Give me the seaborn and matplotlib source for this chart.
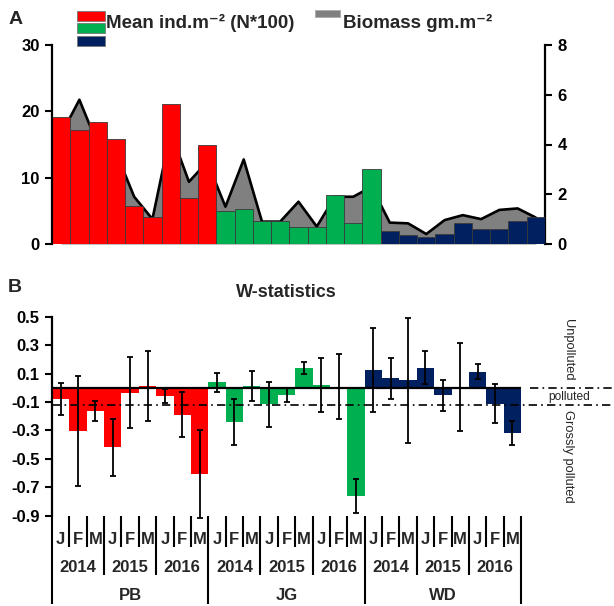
import matplotlib
matplotlib.use("Agg")
import matplotlib.pyplot as plt
import seaborn as sns
import numpy as np
import pandas as pd
from matplotlib.patches import Rectangle
from matplotlib.transforms import blended_transform_factory

# ---------------- data ----------------
sites = ["PB"] * 9 + ["JG"] * 9 + ["WD"] * 9
site_names = ["PB", "JG", "WD"]
years = ["2014", "2015", "2016"]
months = ["J", "F", "M"]
density = [19.2, 17.2, 18.4, 15.8, 5.8, 4.1, 21.1, 7.0, 14.9,
           4.9, 5.3, 3.4, 3.4, 2.6, 2.6, 7.4, 3.2, 11.3,
           2.0, 1.4, 1.0, 1.5, 3.1, 2.3, 2.3, 3.5, 4.0]
biomass = [4.4, 5.8, 4.0, 3.7, 1.9, 1.0, 4.5, 2.5, 3.3,
           1.5, 3.4, 0.9, 0.9, 1.7, 0.7, 1.9, 1.9, 2.3,
           0.86, 0.83, 0.4, 0.96, 1.16, 1.0, 1.37, 1.43, 1.06]
w_mean = [-0.08, -0.305, -0.166, -0.42, -0.034, 0.013, -0.06, -0.19, -0.61,
          0.037, -0.24, 0.013, -0.117, -0.053, 0.14, 0.018, 0.008, -0.76,
          0.124, 0.065, 0.053, 0.14, -0.053, 0.005, 0.112, -0.112, -0.317]
w_err = [0.11, 0.39, 0.07, 0.2, 0.25, 0.245, 0.05, 0.16, 0.31,
         0.07, 0.16, 0.106, 0.16, 0.05, 0.043, 0.19, 0.23, 0.12,
         0.295, 0.145, 0.44, 0.115, 0.108, 0.31, 0.053, 0.14, 0.085]
density_ticks = [0, 10, 20, 30]
biomass_ticks = [0, 2, 4, 6, 8]
w_ticks = [0.5, 0.3, 0.1, -0.1, -0.3, -0.5, -0.7, -0.9]
w_tick_labels = ["0.5", "0.3", "0.1", "-0.1", "-0.3", "-0.5", "-0.7", "-0.9"]
threshold = -0.12

palette = {"PB": "#FF0000", "JG": "#00B050", "WD": "#002060"}
gray = "#808080"

# ---------------- style ----------------
sns.set_theme(style="white")
plt.rcParams['font.family'] = ['Liberation Sans', 'DejaVu Sans']
plt.rcParams['font.weight'] = 'bold'
plt.rcParams['axes.unicode_minus'] = False

W, H = 614, 606
fig = plt.figure(figsize=(W / 100, H / 100), dpi=100)


def fx(x):
    return x / W


def fy(y):
    return 1 - y / H


df = pd.DataFrame({"idx": np.arange(27), "site": sites,
                   "density": density, "biomass": biomass, "w": w_mean})
xpos = np.arange(27)

# ---------------- panel A ----------------
ax = fig.add_axes([fx(52), fy(244), (545 - 52) / W, (244 - 45) / H])
ax2 = ax.twinx()
ax2.fill_between(xpos, df["biomass"], color=gray, lw=0)
ax2.plot(xpos, df["biomass"], color="black", lw=1.9)
ax2.set_ylim(0, 8)
ax2.set_yticks(biomass_ticks)

sns.barplot(data=df, x="idx", y="density", hue="site", palette=palette,
            saturation=1, dodge=False, width=1.0, edgecolor="#3a3a3a",
            linewidth=0.6, legend=False, ax=ax)
ax.set_zorder(ax2.get_zorder() + 1)
ax.patch.set_visible(False)
ax.set_xlim(-0.5, 26.5)
ax.set_ylim(0, 30)
ax.set_yticks(density_ticks)
ax.set_xticks([])
ax.set_xlabel("")
ax.set_ylabel("")

for s in ["top", "right", "bottom"]:
    ax.spines[s].set_visible(False)
for s in ["top", "left", "bottom"]:
    ax2.spines[s].set_visible(False)
ax.spines["left"].set_color("black")
ax.spines["left"].set_linewidth(1.6)
ax2.spines["right"].set_color("black")
ax2.spines["right"].set_linewidth(1.6)
ax.tick_params(axis="y", left=True, length=5, width=1.5, direction="out",
               labelsize=12, pad=4, colors="black")
ax2.tick_params(axis="y", right=True, length=5, width=1.5, direction="out",
                labelsize=12, pad=4, colors="black")
for lab in ax.get_yticklabels() + ax2.get_yticklabels():
    lab.set_fontweight("bold")

# legend
fig.add_artist(Rectangle((fx(77), fy(20.5)), 28 / W, 9.5 / H, transform=fig.transFigure,
                         facecolor=palette["PB"], edgecolor="#777777", lw=0.6))
fig.add_artist(Rectangle((fx(77), fy(32.5)), 28 / W, 10 / H, transform=fig.transFigure,
                         facecolor=palette["JG"], edgecolor="#777777", lw=0.6))
fig.add_artist(Rectangle((fx(77), fy(46)), 28 / W, 10 / H, transform=fig.transFigure,
                         facecolor=palette["WD"], edgecolor="#777777", lw=0.6))
fig.add_artist(Rectangle((fx(315), fy(16.5)), 25 / W, 6.5 / H, transform=fig.transFigure,
                         facecolor=gray, edgecolor="#aaaaaa", lw=0.6))
fig.text(fx(106.5), fy(28), "Mean ind.m\u207b\u00b2 (N*100)", fontsize=13.5,
         fontweight="bold", va="baseline", ha="left")
fig.text(fx(343), fy(28), "Biomass gm.m\u207b\u00b2", fontsize=13.5,
         fontweight="bold", va="baseline", ha="left")
fig.text(fx(15.5), fy(19), "A", fontsize=14, fontweight="bold", ha="center", va="center")

# ---------------- panel B ----------------
axb = fig.add_axes([fx(52), fy(515.5), (521 - 52) / W, (515.5 - 316.7) / H])
sns.barplot(data=df, x="idx", y="w", hue="site", palette=palette,
            saturation=1, dodge=False, width=1.0, linewidth=0, legend=False,
            errorbar=None, ax=axb)
axb.set_xlim(-0.5, 26.5)
axb.set_ylim(-0.9, 0.5)
axb.set_yticks(w_ticks)
axb.set_yticklabels(w_tick_labels)
axb.set_xticks([])
axb.set_xlabel("")
axb.set_ylabel("")
for s in ["top", "right", "bottom"]:
    axb.spines[s].set_visible(False)
axb.spines["left"].set_color("black")
axb.spines["left"].set_linewidth(1.6)
axb.tick_params(axis="y", left=True, length=5, width=1.5, direction="out",
                labelsize=12, pad=4, colors="black")
for lab in axb.get_yticklabels():
    lab.set_fontweight("bold")

axb.axhline(0, color="black", lw=1.6, zorder=3)
span = (521 - 52)
dashdot = (0, (5, 2.5, 1, 2.5))
axb.axhline(threshold, xmin=0, xmax=(614 - 52) / span, color="black", lw=1.2,
            ls=dashdot, clip_on=False, zorder=3)
axb.axhline(0, xmin=(530 - 52) / span, xmax=(614 - 52) / span, color="black",
            lw=1.2, ls=dashdot, clip_on=False, zorder=3)
axb.errorbar(xpos, df["w"], yerr=w_err, fmt="none", ecolor="black",
             elinewidth=1.3, capsize=2.2, capthick=1.3, zorder=4, clip_on=False)

fig.text(fx(15), fy(288), "B", fontsize=14, fontweight="bold", ha="center", va="center")
fig.text(fx(286.5), fy(292), "W-statistics", fontsize=13, fontweight="bold",
         ha="center", va="center")

fig.text(fx(568), fy(350), "Unpolluted", rotation=270, fontsize=9.3,
         fontweight="normal", ha="center", va="center")
fig.text(fx(569), fy(397), "polluted", fontsize=8.6, fontweight="normal",
         ha="center", va="center")
fig.text(fx(568), fy(456), "Grossly polluted", rotation=270, fontsize=9.3,
         fontweight="normal", ha="center", va="center")

# hierarchical x labels
trans = blended_transform_factory(axb.transData, fig.transFigure)
for b in range(28):
    xb = b - 0.5
    if b % 9 == 0:
        yend = 604
    elif b % 3 == 0:
        yend = 575
    else:
        yend = 546.7
    axb.plot([xb, xb], [fy(515.5), fy(yend)], transform=trans, color="black",
             lw=1.5, clip_on=False, solid_capstyle="butt")
for i in range(27):
    axb.text(i, fy(539), months[i % 3], transform=trans, ha="center", va="center",
             fontsize=12, fontweight="bold")
for k in range(9):
    axb.text(3 * k + 1, fy(568), years[k % 3], transform=trans, ha="center",
             va="center", fontsize=12, fontweight="bold")
for s in range(3):
    axb.text(9 * s + 4, fy(595), site_names[s], transform=trans, ha="center",
             va="center", fontsize=12, fontweight="bold")

fig.savefig("out.png", dpi=100)
